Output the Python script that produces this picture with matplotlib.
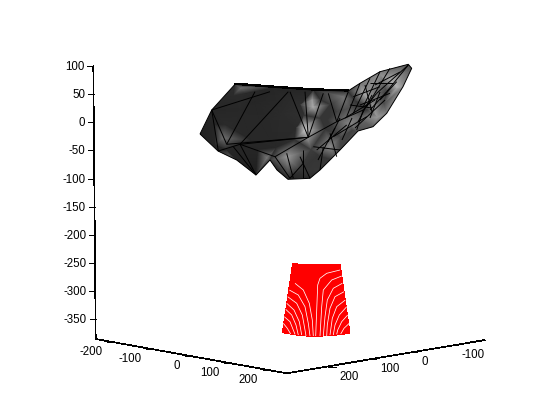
import matplotlib
matplotlib.use("Agg")
import matplotlib.pyplot as plt
from matplotlib.patches import Polygon

plt.rcParams["font.family"] = ["Liberation Sans", "DejaVu Sans"]

# tick values of the three axes
x_ticks = [-200, -100, 0, 100, 200]
y_ticks = [200, 100, 0, -100]
z_ticks = [100, 50, 0, -50, -100, -150, -200, -250, -300, -350]

# where the axes lie in the picture, in pixels
x_axis_px = [95.7, 286.7]
x_axis_py = [339.0, 373.3]
y_axis_px = [286.7, 485.0]
y_axis_py = [373.3, 340.0]
z_axis_px = [93.3, 95.7]
z_axis_py = [66.0, 339.0]

# dark surface: outline
outline_px = [200, 211.7, 235, 273.3, 313, 348, 360, 380, 408.3, 411.7, 403, 386.7, 373, 358,
              340, 320, 310, 288, 277, 270, 256, 236.7, 218]
outline_py = [134, 110, 84.3, 87.3, 90, 91, 83.3, 71.7, 64.3, 68.3, 86.7, 113.3, 126.7, 131,
              150, 170, 178.3, 179.3, 170, 160, 175, 160, 151]
outline_gray = [0.07, 0.09, 0.12, 0.09, 0.09, 0.12, 0.4, 0.42, 0.25, 0.25, 0.5, 0.45, 0.3, 0.25,
                0.2, 0.16, 0.11, 0.08, 0.08, 0.16, 0.06, 0.08, 0.1]

# inner shading points of the dark surface
inner_px = [313, 312, 305, 304, 287, 267, 223, 241, 230, 330, 343, 363, 390, 397, 377, 367, 350, 387, 340,
            # dark points around the light patches
            260, 280, 240, 225, 250, 215, 255, 290, 300, 320, 304, 320, 296, 295, 276, 258, 245, 234, 226,
            215, 330, 325, 336, 335, 318, 350, 355, 372, 384, 360, 370, 380, 398, 345, 352, 328, 311, 300]
inner_py = [107, 100, 130, 124, 157, 158, 138, 88, 157, 147, 97, 93, 80, 87, 117, 110, 123, 93, 137,
            120, 115, 110, 125, 140, 125, 100, 100, 105, 100, 115, 118, 128, 140, 148, 150, 93, 95, 150,
            145, 105, 130, 112, 160, 155, 108, 100, 103, 103, 118, 90, 75, 75, 110, 130, 120, 150, 170]
inner_gray = [0.62, 0.55, 0.75, 0.55, 0.55, 0.42, 0.38, 0.38, 0.32, 0.5, 0.42, 0.6, 0.6, 0.65, 0.55, 0.15, 0.48, 0.15, 0.22,
              0.1, 0.11, 0.1, 0.11, 0.1, 0.09, 0.09, 0.11, 0.12, 0.13, 0.13, 0.15, 0.11, 0.13, 0.1, 0.09, 0.11, 0.11, 0.09,
              0.09, 0.15, 0.15, 0.18, 0.16, 0.15, 0.25, 0.15, 0.5, 0.22, 0.35, 0.5, 0.5, 0.5, 0.25, 0.2, 0.15, 0.18, 0.15]

# mesh edges on the dark surface
mesh_lines = [
    [(348.3, 91.7), (336.7, 121.7)], [(360, 83.3), (346.7, 116.7)], [(370, 78.3), (353.3, 113.3)],
    [(380, 71.7), (363.3, 106.7)], [(390, 68.3), (366.7, 106.7)], [(408.3, 65), (376.7, 93.3)],
    [(408.3, 65), (386.7, 91.7)], [(376.7, 93.3), (363.3, 110), (356.7, 130)],
    [(386.7, 91.7), (370, 110)], [(396.7, 81.7), (380, 100)], [(370, 83.3), (393.3, 83.3)],
    [(353.3, 96.7), (380, 86.7)], [(360, 105), (390, 93.3)], [(336.7, 121.7), (363.3, 110)],
    [(333.3, 136.7), (366.7, 116.7)], [(316.7, 150), (346.7, 125)], [(313.3, 146.7), (340, 150)],
    [(323.3, 146.7), (320, 170)], [(330, 133.3), (336.7, 156.7)],
    [(372, 95), (358, 122)], [(380, 92), (370, 118)], [(350, 105), (372, 108)], [(345, 118), (375, 100)],
    [(355, 128), (385, 100)], [(365, 85), (372, 112)], [(400, 72), (375, 85)], [(342, 140), (352, 118)],
    [(328, 142), (340, 118)], [(318, 160), (335, 128)],
    [(211.7, 110), (226.7, 144.3)], [(211.7, 110), (218.3, 151)], [(211.7, 110), (270, 91.7)],
    [(226.7, 144.3), (255, 91.7)], [(240, 144.3), (288.3, 91.7)], [(226.7, 144.3), (308.3, 137.3)],
    [(218.3, 151), (240, 144.3), (308.3, 137.3)], [(240, 144.3), (275, 156.7)],
    [(256, 175), (240, 144.3)], [(256, 175), (233.3, 146.7)], [(290, 91.7), (308.3, 137.3)],
    [(305, 91.7), (308.3, 137.3)], [(323.3, 93.3), (308.3, 137.3)], [(328.3, 93.3), (336.7, 121.7)],
    [(308.3, 137.3), (336.7, 121.7)], [(308.3, 137.3), (275, 156.7)], [(275, 156.7), (290, 178.3)],
    [(286.7, 153.3), (293.3, 178.3)], [(300, 156.7), (310, 178.3)], [(303.3, 163.3), (290, 178.3)],
    [(303.3, 150), (303.3, 178.3)],
]

# red surface and the white curves on it
red_px = [292.7, 301.7, 333.3, 340, 350, 336.7, 313.3, 296.7, 282.3]
red_py = [263.3, 264.7, 264.7, 264, 333.3, 335, 336.7, 335, 332.7]
white_curves = [
    [(340, 270), (326.7, 273.3), (320, 278.3), (317.7, 285), (316.7, 310), (315.7, 336)],
    [(341.7, 276), (331.7, 280), (323.3, 290), (321.7, 306.7), (320, 336)],
    [(342.3, 283.3), (333.3, 288.3), (327.3, 300), (325, 316.7), (323.3, 336)],
    [(344, 291.7), (335, 296.7), (330, 308.3), (327.3, 325), (326.7, 336)],
    [(345.3, 300), (336.7, 306.7), (332.3, 318.3), (330, 335)],
    [(346.7, 306.7), (339.3, 315), (335, 325), (333.3, 335)],
    [(347.7, 315), (341.7, 321.7), (337.7, 330), (336.7, 334.3)],
    [(349.3, 323.3), (344, 328.3), (340.7, 334)],
    [(295, 283.3), (303.3, 290), (309.3, 303.3), (312.3, 320), (313.3, 336)],
    [(289.3, 290), (298.3, 295), (305, 306.7), (308.3, 323.3), (310, 336)],
    [(287.7, 296.7), (296.7, 303.3), (302.3, 315), (305, 330), (306, 336)],
    [(286.7, 303.3), (294, 310), (299.3, 321.7), (301.7, 335)],
    [(285.7, 309.3), (291.7, 315), (296, 325), (298.3, 335)],
    [(284.3, 316.7), (290, 321.7), (293.3, 330), (295, 334.3)],
    [(283.3, 323.3), (287.3, 328.3), (290.7, 334)],
]

fig = plt.figure(figsize=(5.6, 4.2), dpi=100)
ax = fig.add_axes([0, 0, 1, 1])
ax.set_xlim(0, 560)
ax.set_ylim(420, 0)
ax.axis("off")


def along(value, v0, v1, p0, p1):
    return p0 + (value - v0) / (v1 - v0) * (p1 - p0)


def plot_line(xs, ys, lw=0.5, color="black", aa=False):
    ax.plot(xs, ys, color=color, lw=lw, antialiased=aa, solid_capstyle="butt")


# dark surface, gouraud shaded and clipped to its outline
all_px = outline_px + inner_px
all_py = outline_py + inner_py
all_gray = outline_gray + inner_gray
mesh = ax.tripcolor(all_px, all_py, all_gray, shading="gouraud", cmap="gray", vmin=-0.06, vmax=0.94)
clip = Polygon(list(zip(outline_px, outline_py)), transform=ax.transData, fill=False, edgecolor="none")
ax.add_patch(clip)
mesh.set_clip_path(clip)

for line in mesh_lines:
    plot_line([p[0] for p in line], [p[1] for p in line], lw=0.7, aa=True)
plot_line(outline_px + outline_px[:1], outline_py + outline_py[:1], lw=0.7, aa=True)
plot_line(outline_px[2:6], [p - 0.6 for p in outline_py[2:6]], lw=1.0)

# red surface
ax.fill(red_px, red_py, color="#ff0000", lw=0, antialiased=False)
for curve in white_curves:
    plot_line([p[0] for p in curve], [p[1] for p in curve], lw=0.55, color="white", aa=True)

# axis lines
plot_line(x_axis_px, x_axis_py)
plot_line(y_axis_px, y_axis_py)
plot_line(z_axis_px, z_axis_py)

# x ticks and labels
for v in x_ticks:
    px = along(v, -200, 200, 111, 266.7)
    py = along(v, -200, 200, 342.2, 370.3)
    plot_line([px - 4, px + 4], [py, py])
    ax.text(px - 8.5, py + 10, str(v), ha="right", va="center", fontsize=8.3)

# y ticks and labels
for v in y_ticks:
    px = along(v, 200, -100, 331.7, 454)
    py = along(v, 200, -100, 366.5, 345)
    plot_line([px - 4, px + 4], [py, py])
    ax.text(px + 8, py + 10, str(v), ha="left", va="center", fontsize=8.3)

# z ticks and labels
for v in z_ticks:
    py = along(v, 100, -350, 66, 319.3)
    px = along(py, z_axis_py[0], z_axis_py[1], z_axis_px[0], z_axis_px[1])
    plot_line([px - 6, px], [py, py])
    ax.text(px - 8.5, py + 1, str(v), ha="right", va="center", fontsize=8.3)

fig.savefig("out.png", dpi=100)
